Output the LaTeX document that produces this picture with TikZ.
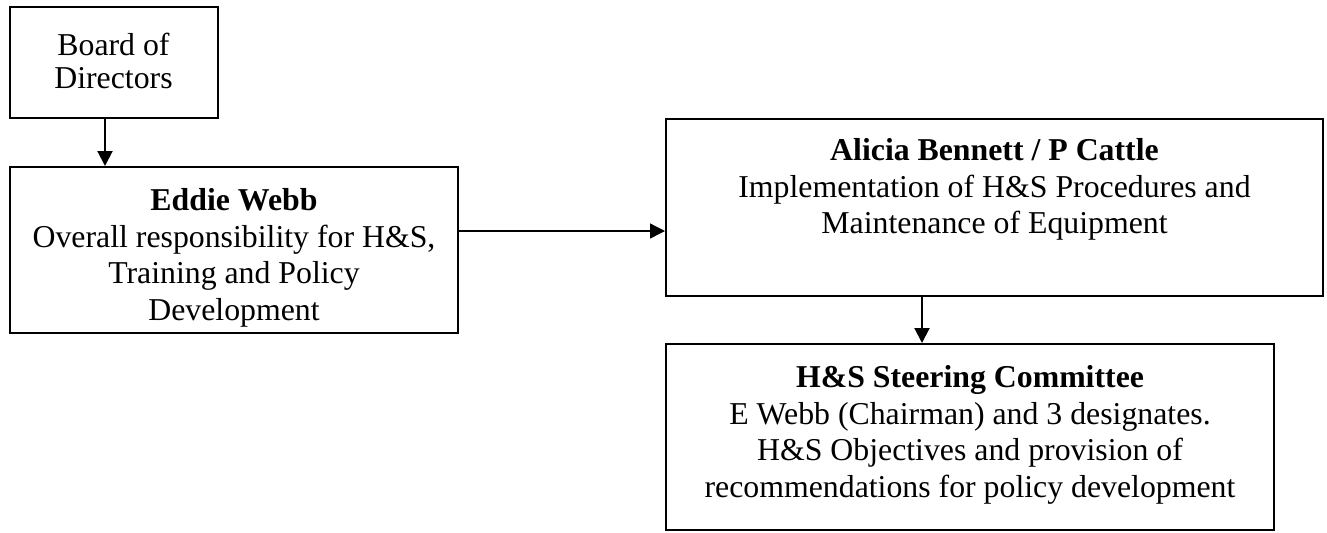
\documentclass[tikz,border=0pt]{standalone}
\usepackage{fontspec}
\setmainfont{Liberation Serif}
\usetikzlibrary{arrows.meta,fit}
\begin{document}
\begin{tikzpicture}[x=0.5pt,y=-0.5pt,
  box/.style={draw, line width=1pt, inner sep=0pt},
  txt/.style={align=center, inner sep=0pt, anchor=north,
    font=\fontsize{15.9}{18.3}\selectfont},
  link/.style={-{Triangle[length=7.5pt,width=7.5pt]}, line width=1pt},
  thinlink/.style={link, line width=0.65pt}]
\useasboundingbox (0,0) rectangle (1327,532);

% boxes
\node[box, fit={(9.5,7) (218,118)}] (board) {};
\node[box, fit={(9.5,167) (458,333)}] (eddie) {};
\node[box, fit={(666,119) (1323,296)}] (alicia) {};
\node[box, fit={(666,344) (1274,530)}] (steer) {};

% texts (top of first line's strut sits about 25.6 units above its baseline)
\node[txt, font=\fontsize{15.9}{16.3}\selectfont] (boardtxt) at (113.5,32.2)
  {\strut Board of\\Directors};
\node[txt] (eddietxt) at (234,184.4) {\strut\textbf{Eddie Webb}\\Overall responsibility for H\&S,\\Training and Policy\\Development};
\node[txt] (aliciatxt) at (994.5,134.4) {\strut\textbf{Alicia Bennett / P Cattle}\\Implementation of H\&S Procedures and\\Maintenance of Equipment};
\node[txt] (steertxt) at (970,361.4) {\strut\textbf{H\&S Steering Committee}\\E Webb (Chairman) and 3 designates.\\H\&S Objectives and provision of\\recommendations for policy development};

% connectors
\coordinate (v1) at (105,0);
\coordinate (h1) at (0,231);
\coordinate (v2) at (922,0);
\draw[link] (board.south -| v1) -- (eddie.north -| v1);
\draw[thinlink] (eddie.east |- h1) -- (alicia.west |- h1);
\draw[link] (alicia.south -| v2) -- (steer.north -| v2);
\end{tikzpicture}
\end{document}
